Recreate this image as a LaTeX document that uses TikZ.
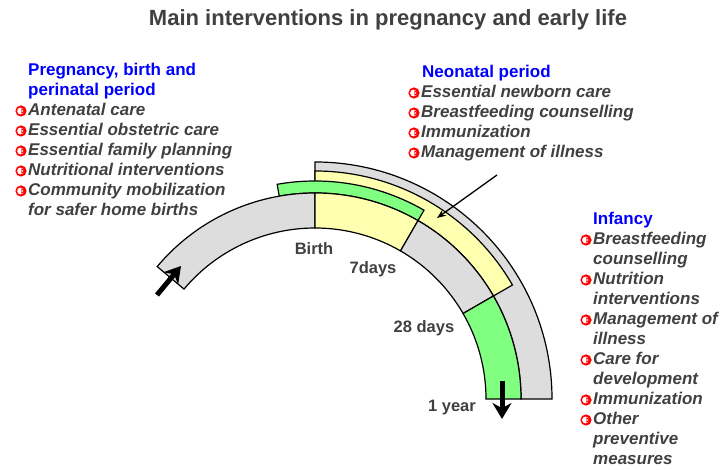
\documentclass[tikz,border=0pt]{standalone}
\usepackage{fontspec}
\setmainfont{Liberation Sans}
\usetikzlibrary{arrows.meta,calc}

\definecolor{txtgray}{HTML}{404040}
\definecolor{headblue}{HTML}{0000FF}
\definecolor{bandgray}{HTML}{DDDDDD}
\definecolor{bandyellow}{HTML}{FFFFB0}
\definecolor{bandgreen}{HTML}{80FF80}

% ring segment around (C): style, start angle, end angle, inner radius, outer radius
\newcommand\ringpart[5]{%
  \draw[#1] ($(C)+(#2:#4)$) arc[start angle=#2,end angle=#3,radius=#4]
    -- ($(C)+(#3:#5)$) arc[start angle=#3,end angle=#2,radius=#5] -- cycle;}

% one bulleted line of italic text
\newcommand\bulletitem[4]{%
  \node[itemtext] (#1) at (#2,#3) {#4};
  \pic at ($(#1.base west)+(-7,5)$) {bulletmark};}

\begin{document}
\begin{tikzpicture}[x=1bp,y=1bp,
  band/.style={draw=black,line width=1.2bp,line join=miter},
  itemtext/.style={anchor=base west,inner sep=0pt,text=txtgray,
    font=\fontsize{17bp}{20bp}\selectfont\bfseries\itshape},
  heading/.style={anchor=base west,inner sep=0pt,text=headblue,
    font=\fontsize{17bp}{20bp}\selectfont\bfseries},
  stagetext/.style={anchor=base,inner sep=0pt,text=txtgray,
    font=\fontsize{16.5bp}{20bp}\selectfont\bfseries},
  thickarrow/.style={line width=5bp,-{Stealth[length=16bp,width=19bp]}},
  thinarrow/.style={line width=1.3bp,-{Stealth[length=9bp,width=7bp]}},
  bulletmark/.pic={
    \fill[red] (0,0) circle (5.6);
    \fill[white] (-0.5,0) circle (3.4);
    \fill[red] (0.4,-2.6) arc[start angle=-90,end angle=90,radius=2.6] -- cycle;
    \fill[white] (1.3,0) circle (0.9);
  }]
\useasboundingbox (0,0) rectangle (721,470);
\coordinate (C) at (315,71);

% title
\node[anchor=base,inner sep=0pt,text=txtgray,
  font=\fontsize{22bp}{26bp}\selectfont\bfseries] (title) at (388,444)
  {Main interventions in pregnancy and early life};

% outer bands
\ringpart{band,fill=bandgray}{0}{90}{206}{237}
\ringpart{band,fill=bandyellow}{30}{90}{206}{228}
\ringpart{band,fill=bandgreen}{60}{100}{206}{218}
% inner time line
\ringpart{band,fill=bandgray}{90}{140}{171}{206}
\ringpart{band,fill=bandyellow}{60}{90}{171}{206}
\ringpart{band,fill=bandgray}{30}{60}{171}{206}
\ringpart{band,fill=bandgreen}{0}{30}{171}{206}

% stage labels
\node[stagetext] (birth) at (314,215) {Birth};
\node[stagetext] (days7) at (373,196) {7days};
\node[stagetext] (days28) at (424,137) {28 days};
\node[stagetext] (year1) at (452,58) {1 year};

% direction arrows
\coordinate (inA) at (157,175);
\coordinate (inB) at (181,204);
\draw[thickarrow] (inA) -- (inB);
\coordinate (outA) at (502,89);
\coordinate (outB) at (502,51);
\draw[thickarrow] (outA) -- (outB);

% left block
\node[heading] (pregA) at (28,394) {Pregnancy, birth and};
\node[heading] (pregB) at (28,374) {perinatal period};
\bulletitem{p1}{28}{354}{Antenatal care}
\bulletitem{p2}{28}{334}{Essential obstetric care}
\bulletitem{p3}{28}{314}{Essential family planning}
\bulletitem{p4}{28}{294}{Nutritional interventions}
\bulletitem{p5}{28}{274}{Community mobilization}
\node[itemtext] (p5b) at (28,254) {for safer home births};

% neonatal block
\node[heading] (neo) at (422,392) {Neonatal period};
\bulletitem{n1}{421}{372}{Essential newborn care}
\bulletitem{n2}{421}{352}{Breastfeeding counselling}
\bulletitem{n3}{421}{332}{Immunization}
\bulletitem{n4}{421}{312}{Management of illness}
\coordinate (neoA) at (497,295);
\coordinate (neoB) at (437,252);
\draw[thinarrow] (neoA) -- (neoB);

% infancy block
\node[heading] (inf) at (593,245) {Infancy};
\bulletitem{i1}{593}{225}{Breastfeeding}
\node[itemtext] (i1b) at (593,205) {counselling};
\bulletitem{i2}{593}{185}{Nutrition}
\node[itemtext] (i2b) at (593,165) {interventions};
\bulletitem{i3}{593}{145}{Management of}
\node[itemtext] (i3b) at (593,125) {illness};
\bulletitem{i4}{593}{105}{Care for}
\node[itemtext] (i4b) at (593,85) {development};
\bulletitem{i5}{593}{65}{Immunization}
\bulletitem{i6}{593}{45}{Other}
\node[itemtext] (i6b) at (593,25) {preventive};
\node[itemtext] (i6c) at (593,5) {measures};
\end{tikzpicture}
\end{document}
